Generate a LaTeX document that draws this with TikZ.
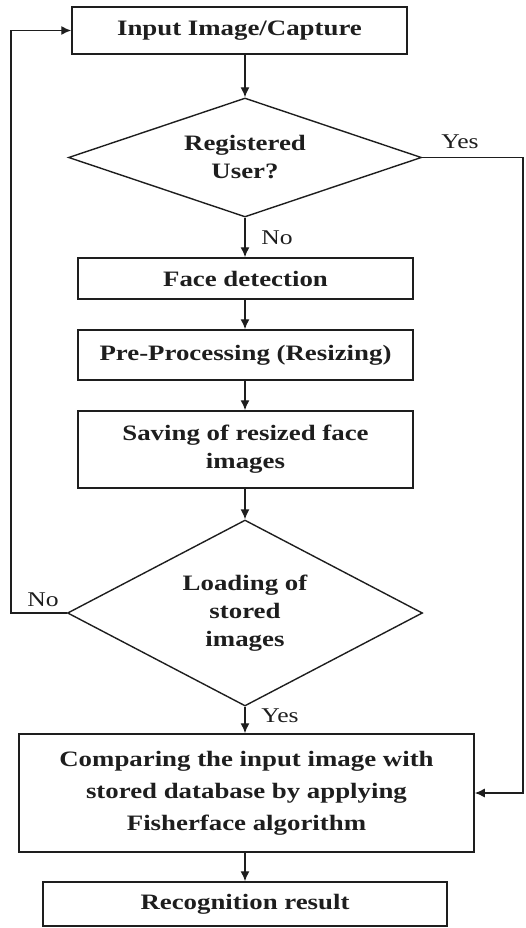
\documentclass[tikz,border=0pt]{standalone}
\usepackage{fontspec}
\setmainfont[FakeStretch=1.22]{Liberation Serif}
\usetikzlibrary{shapes.geometric,arrows.meta}
\definecolor{ink}{RGB}{30,30,30}
\begin{document}
\begin{tikzpicture}[x=1pt,y=-1pt,
  box/.style={draw=ink, line width=1.5pt, rectangle, inner sep=0pt, align=center,
    text=ink, font=\bfseries\fontsize{22}{28}\selectfont},
  dia/.style={draw=ink, line width=1.4pt, diamond, inner sep=0pt, align=center,
    text=ink, font=\bfseries\fontsize{22}{28}\selectfont},
  arr/.style={draw=ink, line width=1.4pt, -{Latex[length=10pt,width=9pt]}},
  lab/.style={inner sep=0pt, text=ink, font=\fontsize{21}{24}\selectfont}]
\useasboundingbox (0,0) rectangle (526,928);

\node[box, minimum width=335, minimum height=47] (b1) at (239.5,30.5) {Input Image/Capture};
\node[dia, aspect=3, minimum width=353, minimum height=119] (d1) at (245,157.5) {Registered\\User?};
\node[box, minimum width=335, minimum height=41] (b2) at (245.5,278.5) {Face detection};
\node[box, minimum width=335, minimum height=50] (b3) at (245.5,355) {Pre-Processing (Resizing)};
\node[box, minimum width=335, minimum height=77] (b4) at (245.5,449.5) {Saving of resized face\\images};
\node[dia, aspect=2, minimum width=355, minimum height=186] (d2) at (245,613) {Loading of\\stored\\images};
\node[box, minimum width=455, minimum height=118, font=\bfseries\fontsize{22}{32}\selectfont] (b5) at (246.5,793)
  {Comparing the input image with\\stored database by applying\\Fisherface algorithm};
\node[box, minimum width=404, minimum height=44] (b6) at (245,904) {Recognition result};

\coordinate (rtop) at (523,157.5);
\coordinate (ltop) at (11,613);

\draw[arr] (d1.north |- b1.south) -- (d1.north);
\draw[arr] (d1.south) -- (d1.south |- b2.north);
\draw[arr] (b2.south -| d1.south) -- (b3.north -| d1.south);
\draw[arr] (b3.south -| d1.south) -- (b4.north -| d1.south);
\draw[arr] (b4.south -| d2.north) -- (d2.north);
\draw[arr] (d2.south) -- (d2.south |- b5.north);
\draw[arr] (b5.south -| d2.south) -- (b6.north -| d2.south);
\draw[arr] (d1.east) -- (rtop) |- (b5.east);
\draw[arr] (d2.west) -- (ltop) |- (b1.west);

\node[lab] (yes1) at (460,142) {Yes};
\node[lab] (no1) at (277,238) {No};
\node[lab] (no2) at (43,600) {No};
\node[lab] (yes2) at (280,716) {Yes};
\end{tikzpicture}
\end{document}
